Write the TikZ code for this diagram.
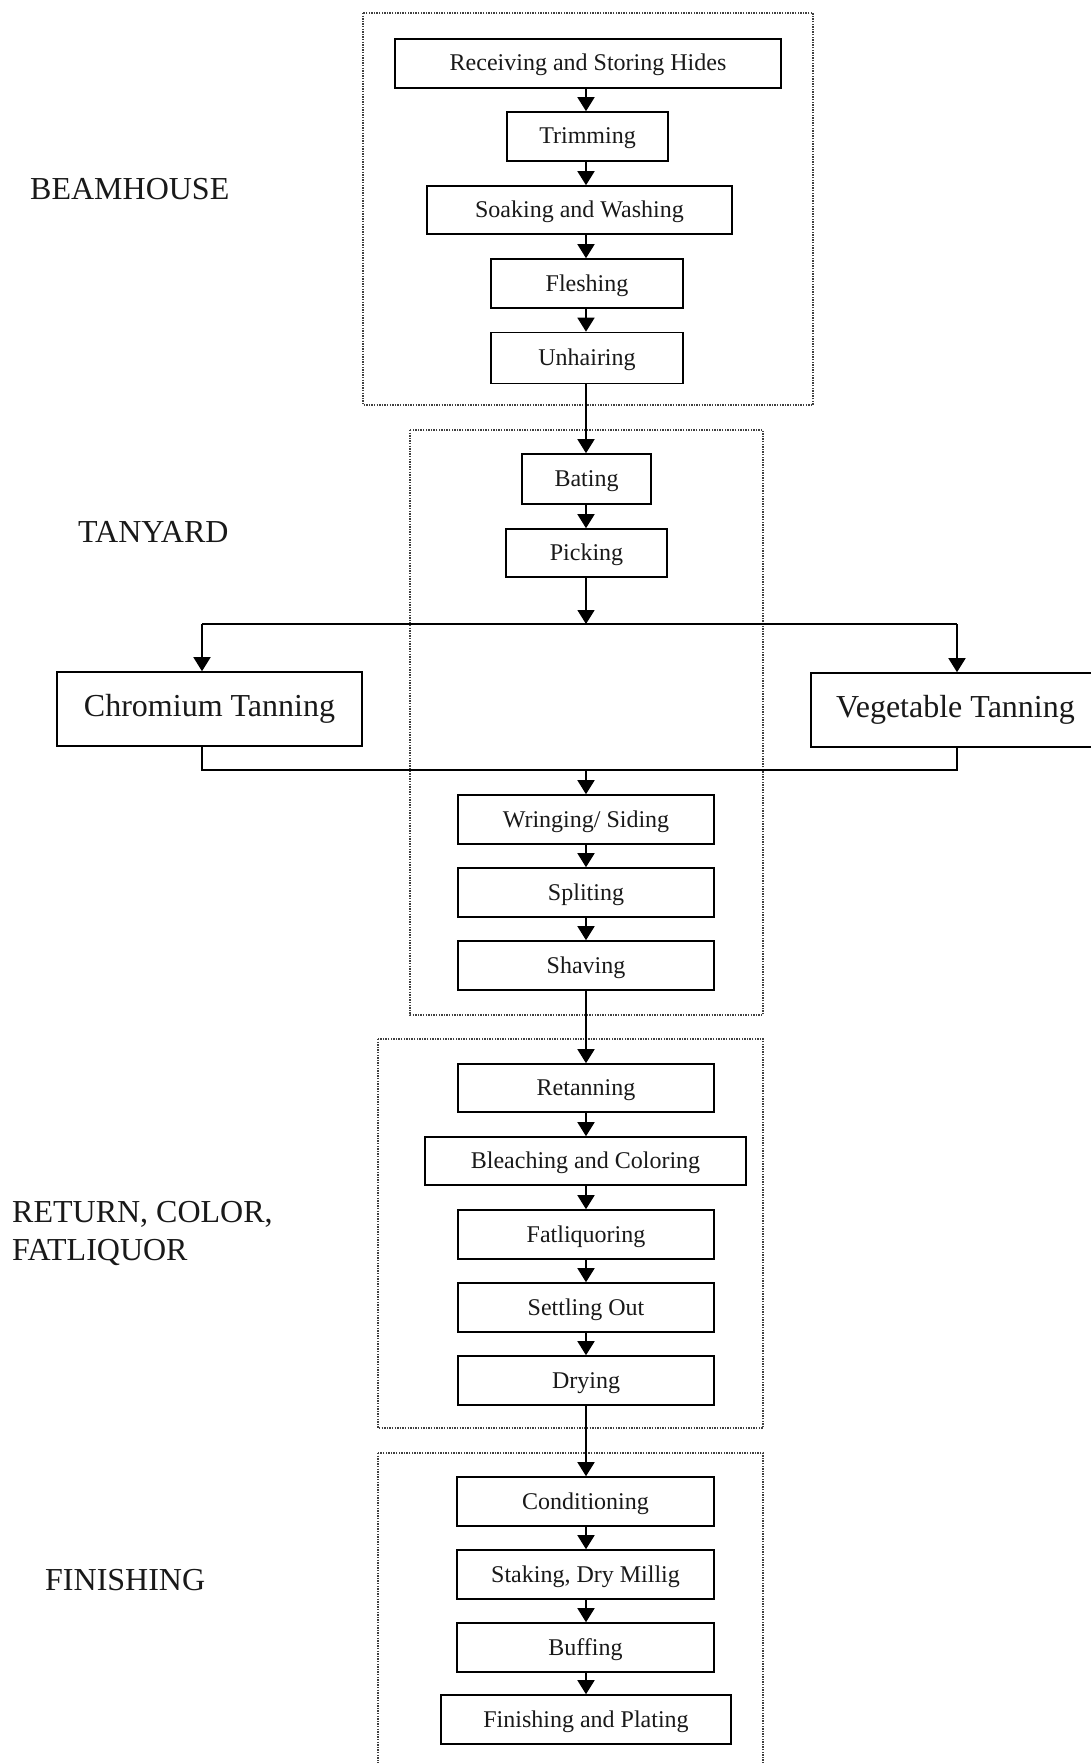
\documentclass[tikz,border=0pt]{standalone}
\usepackage{fontspec}
\setmainfont{Liberation Serif}
\usetikzlibrary{arrows.meta}
\begin{document}
\begin{tikzpicture}[x=1pt,y=-1pt,
  stepbox/.style 2 args={draw, line width=1.6pt, inner sep=0pt, minimum width=#1, minimum height=#2,
    font=\fontsize{24}{28}\selectfont, text=black!90, text height=17pt, text depth=2pt},
  bigbox/.style={draw, line width=1.6pt, inner sep=0pt, minimum height=74pt,
    font=\fontsize{32}{38}\selectfont, text=black!90},
  grp/.style={line width=1.4pt, dash pattern=on 1.4pt off 1.2pt, black!75},
  lbl/.style={anchor=west, inner sep=0pt, font=\fontsize{32}{38}\selectfont, text=black!90, align=left},
  arr/.style={line width=1.6pt, -{Triangle[length=14pt,width=17pt]}},
  ln/.style={line width=1.6pt}]
\useasboundingbox (0,0) rectangle (1091,1763);
\clip (0,0) rectangle (1091,1763);
\fill[white] (0,0) rectangle (1091,1763);

% group frames
\draw[grp] (363,13) rectangle (813,405);
\draw[grp] (410,430) rectangle (763,1015);
\draw[grp] (378,1039) rectangle (763,1428);
\draw[grp] (378,1453) rectangle (763,1820);

% labels
\node[lbl] (lbeam) at (30,189) {BEAMHOUSE};
\node[lbl] (ltan) at (78,532) {TANYARD};
\node[lbl] (lret) at (12,1233) {RETURN, COLOR,\\FATLIQUOR};
\node[lbl] (lfin) at (45,1580) {FINISHING};

% column coordinate
\coordinate (col) at (586,0);

% beamhouse
\node[stepbox={386pt}{49pt}] (recv) at (588,63.5) {Receiving and Storing Hides};
\node[stepbox={161pt}{49pt}] (trim) at (587.5,136.5) {Trimming};
\node[stepbox={305pt}{48pt}] (soak) at (579.5,210) {Soaking and Washing};
\node[stepbox={192pt}{49pt}] (flesh) at (587,283.5) {Fleshing};
\node[stepbox={192pt}{51pt}] (unhair) at (587,358) {Unhairing};

% tanyard
\node[stepbox={129pt}{50pt}] (bating) at (586.5,479) {Bating};
\node[stepbox={161pt}{48pt}] (picking) at (586.5,553) {Picking};
\coordinate (split) at (586.5,624);
\coordinate (splitL) at (202,624);
\coordinate (splitR) at (957,624);
\node[bigbox, minimum width=305pt] (chrom) at (209.5,709) {Chromium Tanning};
\node[bigbox, minimum width=289pt] (veg) at (955.5,710) {Vegetable Tanning};
\coordinate (join) at (586.5,770);
\coordinate (joinL) at (202,770);
\coordinate (joinR) at (957,770);
\node[stepbox={256pt}{49pt}] (wring) at (586,819.5) {Wringing/ Siding};
\node[stepbox={256pt}{49pt}] (split2) at (586,892.5) {Spliting};
\node[stepbox={256pt}{49pt}] (shave) at (586,965.5) {Shaving};

% retan color fatliquor
\node[stepbox={256pt}{48pt}] (retan) at (586,1088) {Retanning};
\node[stepbox={321pt}{48pt}] (bleach) at (585.5,1161) {Bleaching and Coloring};
\node[stepbox={256pt}{49pt}] (fatliq) at (586,1234.5) {Fatliquoring};
\node[stepbox={256pt}{49pt}] (settle) at (586,1307.5) {Settling Out};
\node[stepbox={256pt}{49pt}] (dry) at (586,1380.5) {Drying};

% finishing
\node[stepbox={257pt}{49pt}] (cond) at (585.5,1501.5) {Conditioning};
\node[stepbox={257pt}{49pt}] (stak) at (585.5,1574.5) {Staking, Dry Millig};
\node[stepbox={257pt}{49pt}] (buff) at (585.5,1647.5) {Buffing};
\node[stepbox={290pt}{49pt}] (finpl) at (586,1719.5) {Finishing and Plating};

% connectors
\draw[arr] (recv.south -| col) -- (trim.north -| col);
\draw[arr] (trim.south -| col) -- (soak.north -| col);
\draw[arr] (soak.south -| col) -- (flesh.north -| col);
\draw[arr] (flesh.south -| col) -- (unhair.north -| col);
\draw[arr] (unhair.south -| col) -- (bating.north -| col);
\draw[arr] (bating.south -| col) -- (picking.north -| col);
\draw[arr] (picking.south -| col) -- (split -| col);
\draw[ln] (splitL) -- (splitR);
\draw[arr] (splitL) -- (chrom.north -| splitL);
\draw[arr] (splitR) -- (veg.north -| splitR);
\draw[ln] (chrom.south -| joinL) -- (joinL) -- (joinR) -- (veg.south -| joinR);
\draw[arr] (join -| col) -- (wring.north -| col);
\draw[arr] (wring.south -| col) -- (split2.north -| col);
\draw[arr] (split2.south -| col) -- (shave.north -| col);
\draw[arr] (shave.south -| col) -- (retan.north -| col);
\draw[arr] (retan.south -| col) -- (bleach.north -| col);
\draw[arr] (bleach.south -| col) -- (fatliq.north -| col);
\draw[arr] (fatliq.south -| col) -- (settle.north -| col);
\draw[arr] (settle.south -| col) -- (dry.north -| col);
\draw[arr] (dry.south -| col) -- (cond.north -| col);
\draw[arr] (cond.south -| col) -- (stak.north -| col);
\draw[arr] (stak.south -| col) -- (buff.north -| col);
\draw[arr] (buff.south -| col) -- (finpl.north -| col);
\end{tikzpicture}
\end{document}
